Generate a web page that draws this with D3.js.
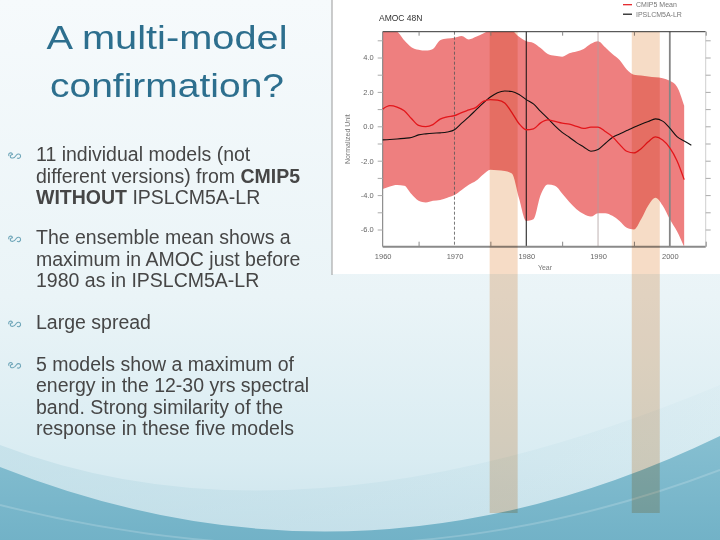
<!DOCTYPE html>
<html><head><meta charset="utf-8">
<script src="https://cdn.jsdelivr.net/npm/d3@7"></script>
<style>html,body{margin:0;padding:0;background:#fff}svg{display:block}</style>
</head><body>
<script>
// ---------- data ----------
const years = d3.range(1960, 2003); // 1960..2002
const spreadUpper = [5.6,5.6,5.5,5.0,4.6,4.45,4.4,4.5,5.0,5.1,5.15,5.25,5.05,5.2,5.4,5.6,5.7,5.6,5.55,5.2,4.95,4.85,4.55,4.2,4.1,4.05,4.25,4.35,4.5,4.8,4.95,4.6,4.2,3.85,3.3,3.0,2.95,2.9,2.85,2.8,2.65,2.3,1.2];
const spreadLower = [-3.65,-3.5,-3.42,-3.45,-3.94,-4.33,-4.43,-4.33,-4.28,-4.15,-4.0,-3.7,-3.4,-3.17,-2.8,-2.52,-2.56,-2.6,-2.75,-4.2,-5.5,-5.4,-4.0,-3.38,-3.46,-3.9,-4.4,-4.82,-5.1,-5.25,-5.05,-5.05,-5.2,-5.5,-5.9,-6.0,-5.4,-4.6,-4.15,-4.6,-5.4,-6.1,-7.0];
const cmip5Mean = [1.0,1.2,1.12,0.9,0.45,0.05,-0.02,0.1,0.42,0.55,0.62,0.8,0.95,1.1,1.45,1.55,1.52,1.35,0.8,0.15,-0.2,-0.15,0.2,0.37,0.28,0.18,0.12,0.0,-0.12,-0.05,-0.05,-0.3,-0.6,-1.05,-1.45,-1.55,-1.3,-0.9,-0.62,-0.8,-1.25,-2.0,-3.1];
const ipslYears = d3.range(1960, 2004); // 1960..2003
const ipslValues = [-0.79,-0.77,-0.74,-0.7,-0.65,-0.5,-0.44,-0.4,-0.38,-0.33,-0.2,0.18,0.55,0.95,1.35,1.7,1.95,2.05,2.02,1.85,1.55,1.3,0.87,0.46,0.03,-0.35,-0.64,-0.95,-1.2,-1.45,-1.35,-1.0,-0.65,-0.45,-0.25,-0.05,0.12,0.28,0.43,0.3,-0.1,-0.6,-0.85,-1.1];
const xTickValues = [1960,1970,1980,1990,2000];
const xTickLabels = ["1960","1970","1980","1990","2000"];
const yTickValues = [4,2,0,-2,-4,-6];
const yTickLabels = ["4.0","2.0","0.0","-2.0","-4.0","-6.0"];
const highlightBands = [[1974.9,1978.8],[1994.7,1998.6]];
const refLines = [
  {year:1970, kind:"dashed"},
  {year:1980, kind:"black"},
  {year:1990, kind:"faint"},
  {year:2000, kind:"gray"}
];
const legendItems = [{label:"CMIP5 Mean", color:"#e3161b"},{label:"IPSLCM5A-LR", color:"#111"}];
const slideTitle = ["A multi-model","confirmation?"];
const bullets = [
  [[{t:"11 individual models (not"}],
   [{t:"different versions) from "},{t:"CMIP5",b:true}],
   [{t:"WITHOUT",b:true},{t:" IPSLCM5A-LR"}]],
  [[{t:"The ensemble mean shows a"}],
   [{t:"maximum in AMOC just before"}],
   [{t:"1980 as in IPSLCM5A-LR"}]],
  [[{t:"Large spread"}]],
  [[{t:"5 models show a maximum of"}],
   [{t:"energy in the 12-30 yrs spectral"}],
   [{t:"band. Strong similarity of the"}],
   [{t:"response in these five models"}]]
];

// ---------- layout ----------
const W = 720, H = 540;
const svg = d3.select("body").append("svg").attr("width", W).attr("height", H)
  .style("font-family", "'Liberation Sans', Arial, sans-serif");
const defs = svg.append("defs");

const bg = defs.append("linearGradient").attr("id","bg").attr("x1",0).attr("y1",0).attr("x2",0).attr("y2",1);
bg.append("stop").attr("offset","0").attr("stop-color","#f6fafc");
bg.append("stop").attr("offset","0.55").attr("stop-color","#eaf4f7");
bg.append("stop").attr("offset","0.85").attr("stop-color","#d9ecf2");
bg.append("stop").attr("offset","1").attr("stop-color","#cbe3ec");
const sw = defs.append("linearGradient").attr("id","sw").attr("x1",0).attr("y1",0).attr("x2",0).attr("y2",1);
sw.append("stop").attr("offset","0").attr("stop-color","#86bfd1");
sw.append("stop").attr("offset","1").attr("stop-color","#72b2c7");
const sw2 = defs.append("linearGradient").attr("id","sw2").attr("x1",0).attr("y1",0).attr("x2",1).attr("y2",0);
sw2.append("stop").attr("offset","0").attr("stop-color","#b5d8e3");
sw2.append("stop").attr("offset","1").attr("stop-color","#b5d8e3").attr("stop-opacity",0.2);

svg.append("rect").attr("width",W).attr("height",H).attr("fill","url(#bg)");
svg.append("path").attr("d","M0,445 Q300,560 720,385 L720,540 L0,540 Z").attr("fill","url(#sw2)").attr("opacity",0.5);
svg.append("path").attr("d","M0,467 Q360,610 720,436 L720,540 L0,540 Z").attr("fill","url(#sw)");
svg.append("path").attr("d","M0,505 Q380,600 720,470").attr("fill","none").attr("stroke","#ffffff").attr("stroke-opacity",0.18).attr("stroke-width",2);

// ---------- slide text ----------
svg.append("g").selectAll("text").data(slideTitle).join("text")
  .attr("x",167).attr("y",(d,i)=>49+i*47.7)
  .attr("text-anchor","middle").attr("font-size",34).attr("fill","#2d6f8e")
  .attr("textLength",(d,i)=>i===0?241:234).attr("lengthAdjust","spacingAndGlyphs")
  .text(d=>d);

const bodyBase = [161,244.3,329.3,370.7];
const bodyG = svg.append("g").attr("fill","#464646").attr("font-size",19.5);
bullets.forEach((lines,bi)=>{
  const by = bodyBase[bi];
  bodyG.append("path")
    .attr("d",`M${9},${by-5} c-1.5,-3 3,-4.5 3.5,-1.5 c-3,0.5 -3,4 0.5,3.5 c1.5,-0.2 2.5,-1.5 3.5,-3 c1,-1.5 3.5,-1.5 4,0.5 c0.6,2 -1.5,3.6 -3.5,2.5`)
    .attr("fill","none").attr("stroke","#6fa6b9").attr("stroke-width",1.1);
  lines.forEach((parts,li)=>{
    const t = bodyG.append("text").attr("x",36).attr("y",by+li*21.5);
    parts.forEach(p=>t.append("tspan").attr("font-weight",p.b?"bold":"normal").text(p.t));
  });
});

// ---------- chart box ----------
svg.append("rect").attr("x",332).attr("y",0).attr("width",388).attr("height",274).attr("fill","#ffffff");
svg.append("line").attr("x1",332).attr("x2",332).attr("y1",0).attr("y2",275).attr("stroke","#9a9a9a").attr("stroke-width",1);

const x = d3.scaleLinear().domain([1960,2005]).range([382.7,705.7]);
const y = d3.scaleLinear().domain([-7,5.5]).range([246.7,31.7]);

defs.append("clipPath").attr("id","plotclip").append("rect")
  .attr("x",x(1960)).attr("y",y(5.5)).attr("width",x(2005)-x(1960)).attr("height",y(-7)-y(5.5));

const plot = svg.append("g").attr("clip-path","url(#plotclip)");
const spread = years.map((yr,i)=>({yr, lo:spreadLower[i], hi:spreadUpper[i]}));
plot.append("path").datum(spread)
  .attr("d", d3.area().x(d=>x(d.yr)).y0(d=>y(d.lo)).y1(d=>y(d.hi)).curve(d3.curveMonotoneX))
  .attr("fill","#ee7f7f");

// reference lines
refLines.forEach(r=>{
  const l = svg.append("line").attr("x1",x(r.year)).attr("x2",x(r.year)).attr("y1",y(5.5)).attr("y2",y(-7));
  if(r.kind==="dashed") l.attr("stroke","#555").attr("stroke-width",0.8).attr("stroke-dasharray","3,2");
  if(r.kind==="black") l.attr("stroke","#111").attr("stroke-width",1);
  if(r.kind==="faint") l.attr("stroke","#b0a0a0").attr("stroke-width",0.8);
  if(r.kind==="gray") l.attr("stroke","#858585").attr("stroke-width",1.8);
});

// frame & axes
svg.append("line").attr("x1",x(1960)).attr("x2",x(2005)).attr("y1",y(5.5)).attr("y2",y(5.5)).attr("stroke","#333").attr("stroke-width",1);
svg.append("line").attr("x1",x(2005)).attr("x2",x(2005)).attr("y1",y(5.5)).attr("y2",y(-7)).attr("stroke","#cfcfcf").attr("stroke-width",1);
svg.append("line").attr("x1",x(1960)).attr("x2",x(1960)).attr("y1",y(5.5)).attr("y2",y(-7)).attr("stroke","#777").attr("stroke-width",1);

const yAxisL = svg.append("g").attr("transform",`translate(${x(1960)},0)`)
  .call(d3.axisLeft(y).tickValues(yTickValues).tickFormat((d,i)=>yTickLabels[i]).tickSize(5).tickPadding(4));
const yAxisR = svg.append("g").attr("transform",`translate(${x(2005)},0)`)
  .call(d3.axisRight(y).tickValues(d3.range(-6,6,1)).tickFormat("").tickSize(5));
const yMinorL = svg.append("g").attr("transform",`translate(${x(1960)},0)`)
  .call(d3.axisLeft(y).tickValues([5,3,1,-1,-3,-5]).tickFormat("").tickSize(5));
[yAxisL,yAxisR,yMinorL].forEach(g=>{
  g.select(".domain").remove();
  g.selectAll(".tick line").attr("stroke","#aaa");
  g.selectAll("text").attr("fill","#666").attr("font-size",7.5).attr("font-family","'Liberation Sans', Arial, sans-serif");
});

const xAxis = svg.append("g").attr("transform",`translate(0,${y(-7)})`)
  .call(d3.axisBottom(x).tickValues(xTickValues).tickFormat((d,i)=>xTickLabels[i]).tickSize(0).tickPadding(7));
xAxis.select(".domain").remove();
xAxis.selectAll("text").attr("fill","#666").attr("font-size",7.5).attr("font-family","'Liberation Sans', Arial, sans-serif");
const xMinorB = svg.append("g").attr("transform",`translate(0,${y(-7)})`)
  .call(d3.axisTop(x).tickValues(d3.range(1965,2006,10)).tickFormat("").tickSize(5));
const xMinorT = svg.append("g").attr("transform",`translate(0,${y(5.5)})`)
  .call(d3.axisBottom(x).tickValues(d3.range(1965,2006,10)).tickFormat("").tickSize(4));
[xMinorB,xMinorT].forEach(g=>{g.select(".domain").remove(); g.selectAll(".tick line").attr("stroke","#888");});
svg.append("line").attr("x1",x(1960)).attr("x2",x(2005)).attr("y1",y(-7)).attr("y2",y(-7)).attr("stroke","#8a8a8a").attr("stroke-width",2);

// series lines
const lineGen = d3.line().x(d=>x(d[0])).y(d=>y(d[1])).curve(d3.curveMonotoneX);
svg.append("path").datum(ipslYears.map((yr,i)=>[yr,ipslValues[i]]))
  .attr("d",lineGen).attr("fill","none").attr("stroke","#111").attr("stroke-width",1.1);
svg.append("path").datum(years.map((yr,i)=>[yr,cmip5Mean[i]]))
  .attr("d",lineGen).attr("fill","none").attr("stroke","#e3161b").attr("stroke-width",1.3);

// chart labels
svg.append("text").attr("x",379).attr("y",21).attr("font-size",8.5).attr("fill","#333").text("AMOC 48N");
svg.append("text").attr("transform",`translate(350,${(y(5.5)+y(-7))/2}) rotate(-90)`)
  .attr("text-anchor","middle").attr("font-size",7).attr("fill","#777").text("Normalized Unit");
svg.append("text").attr("x",545).attr("y",270).attr("text-anchor","middle").attr("font-size",7).attr("fill","#777").text("Year");

const leg = svg.append("g");
legendItems.forEach((d,i)=>{
  const ly = 4.7 + i*9.5;
  leg.append("line").attr("x1",623).attr("x2",632).attr("y1",ly).attr("y2",ly).attr("stroke",d.color).attr("stroke-width",1.2);
  leg.append("text").attr("x",636).attr("y",ly+2.5).attr("font-size",7).attr("fill","#777").text(d.label);
});

// highlight bands (slide overlay)
svg.append("g").selectAll("rect").data(highlightBands).join("rect")
  .attr("x",d=>x(d[0])).attr("width",d=>x(d[1])-x(d[0]))
  .attr("y",y(5.5)).attr("height",513-y(5.5))
  .attr("fill","#f6dcc6").style("mix-blend-mode","multiply");
</script>
</body></html>
